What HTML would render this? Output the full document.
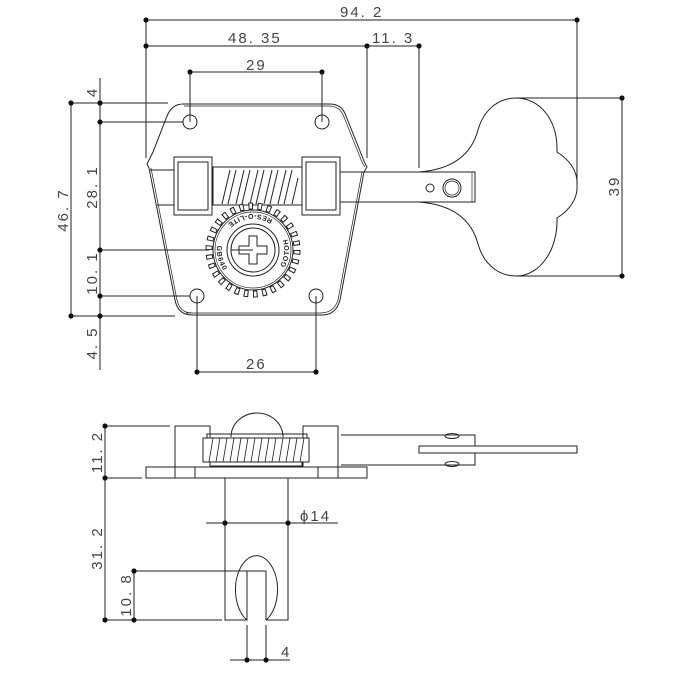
<!DOCTYPE html>
<html><head><meta charset="utf-8">
<style>
html,body{margin:0;padding:0;background:#fff;}
svg{display:block;}
text{font-family:"Liberation Sans",sans-serif;fill:#444;font-size:15px;letter-spacing:2px;}
.r{font-size:7px;font-weight:bold;letter-spacing:1px;fill:#222;}
</style></head><body>
<svg width="681" height="681" viewBox="0 0 681 681" xmlns="http://www.w3.org/2000/svg">
<g stroke="#222" stroke-width="1" fill="none">
<line x1="146" y1="20" x2="577" y2="20"/>
<line x1="146" y1="46" x2="419" y2="46"/>
<line x1="146" y1="20" x2="146" y2="158"/>
<line x1="577" y1="20" x2="577" y2="184"/>
<line x1="367" y1="46" x2="367" y2="158"/>
<line x1="419" y1="46" x2="419" y2="168"/>
<line x1="190" y1="72" x2="322" y2="72"/>
<line x1="190" y1="72" x2="190" y2="122"/>
<line x1="322" y1="72" x2="322" y2="122"/>
<line x1="71" y1="103" x2="71" y2="316"/>
<line x1="100" y1="78" x2="100" y2="370"/>
<line x1="71" y1="103" x2="168" y2="103"/>
<line x1="100" y1="122" x2="183" y2="122"/>
<line x1="100" y1="250" x2="253" y2="250"/>
<line x1="100" y1="296" x2="190" y2="296"/>
<line x1="71" y1="316" x2="175" y2="316"/>
<line x1="197" y1="296" x2="197" y2="372"/>
<line x1="316" y1="296" x2="316" y2="372"/>
<line x1="197" y1="372" x2="316" y2="372"/>
<line x1="516" y1="98" x2="622" y2="98"/>
<line x1="516" y1="276" x2="622" y2="276"/>
<line x1="622" y1="98" x2="622" y2="276"/>

<path d="M183,104 L330,104 Q342,104 346,116 L362,156 Q364,162 367,167 L364,172 L340,300 Q336,315 322,315 L192,315 Q178,315 175,300 L149,168 L147,164 Q150,158 153,152 L167,116 Q172,104 183,104 Z"/>
<path d="M184,106 L329,106 Q340,106 344,117 L360,157 Q362,163 365,167" stroke-width="0.7"/>
<path d="M186,313 L320,313 Q334,313 338,300 L362,172" stroke-width="0.7"/>
<path d="M151,168 L177,300 Q180,313 192,313" stroke-width="0.7"/>
<circle cx="190" cy="122" r="7"/>
<circle cx="322" cy="122" r="7"/>
<circle cx="197" cy="296" r="7"/>
<circle cx="316" cy="296" r="7"/>
<line x1="150" y1="170" x2="174" y2="170"/>
<line x1="157" y1="205" x2="174" y2="205"/>
<rect x="174" y="157" width="38" height="58" fill="#fff"/>
<rect x="178" y="162" width="30" height="48"/>
<rect x="302" y="157" width="38" height="58" fill="#fff"/>
<rect x="306" y="162" width="30" height="48"/>
<rect x="213" y="167" width="89" height="38" fill="#fff"/>
<path d="M222,204 L230,170 M228,204 L236,170 M236,204 L244,170 M242,204 L250,170 M250,204 L258,170 M256,204 L264,170 M264,204 L272,170 M270,204 L278,170 M278,204 L286,170 M284,204 L292,170 M292,204 L298,178"/>
<path d="M340,172 L475,172 L475,202 L340,202"/>
<line x1="472" y1="172" x2="472" y2="202" stroke-width="0.7"/>
<circle cx="430" cy="188" r="4"/>
<circle cx="452" cy="188" r="9"/>
<circle cx="452" cy="188" r="7" stroke-width="0.7"/>
<path d="M419,172 C445,170 470,160 478,130 C485,106 502,98 516,98 C540,98 558,120 557,152 C570,160 578,172 577,185 C578,198 570,210 557,218 C558,250 540,276 516,276 C502,276 485,268 478,244 C470,214 445,204 419,202"/>
</g>
<g>
<circle cx="253" cy="250" r="44" fill="#fff" stroke="#222" stroke-width="7" stroke-dasharray="4.6 4.6"/>
<circle cx="253" cy="250" r="44" fill="none" stroke="#fff" stroke-width="5" stroke-dasharray="2.6 6.6" stroke-dashoffset="-1"/>
<circle cx="253" cy="250" r="40" fill="#fff" stroke="#222" stroke-width="1"/>
<circle cx="253" cy="250" r="38" fill="none" stroke="#222" stroke-width="0.7"/>
<path id="ring" d="M253,286 A36,36 0 0,0 253,214 A36,36 0 0,0 253,286" fill="none"/>
<text class="r"><textPath href="#ring" startOffset="38">GOTOH</textPath></text>
<text class="r"><textPath href="#ring" startOffset="92">RES-O-LITE</textPath></text>
<text class="r"><textPath href="#ring" startOffset="165">GB640</textPath></text>
<circle cx="253" cy="250" r="26" fill="#fff" stroke="#222" stroke-width="1"/>
<circle cx="253" cy="250" r="22" fill="none" stroke="#222" stroke-width="1"/>
<path d="M249,236 L257,236 L257,246 L267,246 L267,254 L257,254 L257,264 L249,264 L249,254 L239,254 L239,246 L249,246 Z" fill="#fff" stroke="#222"/>
<line x1="231" y1="250" x2="253" y2="250" stroke="#222"/>
</g>

<g stroke="#222" stroke-width="1" fill="none">
<line x1="105" y1="426" x2="105" y2="620"/>
<line x1="105" y1="426" x2="170" y2="426"/>
<line x1="105" y1="478" x2="142" y2="478"/>
<line x1="134" y1="571" x2="134" y2="620"/>
<line x1="134" y1="571" x2="247" y2="571"/>
<line x1="105" y1="620" x2="222" y2="620"/>
<rect x="146" y="467" width="221" height="11" fill="#fff"/>
<line x1="175" y1="467" x2="175" y2="478"/>
<line x1="195" y1="467" x2="195" y2="478"/>
<line x1="318" y1="467" x2="318" y2="478"/>
<line x1="338" y1="467" x2="338" y2="478"/>
<rect x="175" y="426" width="35" height="41"/>
<rect x="303" y="426" width="35" height="41"/>
<path d="M231,437 A26,24 0 0,1 283,437"/>
<rect x="207" y="434" width="100" height="5"/>
<rect x="203" y="438" width="106" height="24" fill="#fff"/>
<path d="M209,462 L213,438 M216,462 L220,438 M223,462 L227,438 M230,462 L234,438 M237,462 L241,438 M244,462 L248,438 M251,462 L255,438 M258,462 L262,438 M265,462 L269,438 M272,462 L276,438 M279,462 L283,438 M286,462 L290,438 M293,462 L297,438 M300,462 L304,438" stroke-width="0.8"/>
<rect x="210" y="462" width="92" height="4"/>
<path d="M341,435 L475,435 L475,465 L341,465"/>
<ellipse cx="452" cy="436" rx="7" ry="2.5"/>
<ellipse cx="452" cy="464" rx="7" ry="2.5"/>
<rect x="419" y="446" width="158" height="7" fill="#fff"/>
<path d="M225,478 L225,620 L247,620 L247,571 L266,571 L266,620 L288,620 L288,478"/>
<path d="M247,620 A21,34 0 1,1 266,620"/>
<line x1="206" y1="523" x2="338" y2="523"/>
<line x1="247" y1="625" x2="247" y2="660"/>
<line x1="266" y1="625" x2="266" y2="660"/>
<line x1="230" y1="660" x2="290" y2="660"/>
</g>

<g fill="#111">
<circle cx="146" cy="20" r="2.6"/><circle cx="577" cy="20" r="2.6"/>
<circle cx="146" cy="46" r="2.6"/><circle cx="367" cy="46" r="2.6"/><circle cx="419" cy="46" r="2.6"/>
<circle cx="190" cy="72" r="2.6"/><circle cx="322" cy="72" r="2.6"/>
<circle cx="71" cy="103" r="2.6"/><circle cx="71" cy="316" r="2.6"/>
<circle cx="100" cy="103" r="2.6"/><circle cx="100" cy="122" r="2.6"/><circle cx="100" cy="250" r="2.6"/><circle cx="100" cy="296" r="2.6"/><circle cx="100" cy="316" r="2.6"/>
<circle cx="197" cy="372" r="2.6"/><circle cx="316" cy="372" r="2.6"/>
<circle cx="622" cy="98" r="2.6"/><circle cx="622" cy="276" r="2.6"/>
<circle cx="105" cy="426" r="2.6"/><circle cx="105" cy="478" r="2.6"/><circle cx="105" cy="620" r="2.6"/>
<circle cx="134" cy="571" r="2.6"/><circle cx="134" cy="620" r="2.6"/>
<circle cx="225" cy="523" r="2.6"/><circle cx="288" cy="523" r="2.6"/>
<circle cx="247" cy="660" r="2.6"/><circle cx="266" cy="660" r="2.6"/>
</g>

<text x="340" y="17">94. 2</text>
<text x="228" y="43">48. 35</text>
<text x="372" y="43">11. 3</text>
<text x="246" y="70">29</text>
<text x="246" y="369">26</text>
<text x="300" y="521">ϕ14</text>
<text x="281" y="657">4</text>
<text transform="translate(97,92) rotate(-90)" text-anchor="middle">4</text>
<text transform="translate(68,210) rotate(-90)" text-anchor="middle">46. 7</text>
<text transform="translate(97,187) rotate(-90)" text-anchor="middle">28. 1</text>
<text transform="translate(97,273) rotate(-90)" text-anchor="middle">10. 1</text>
<text transform="translate(97,343) rotate(-90)" text-anchor="middle">4. 5</text>
<text transform="translate(619,186) rotate(-90)" text-anchor="middle">39</text>
<text transform="translate(102,452) rotate(-90)" text-anchor="middle">11. 2</text>
<text transform="translate(102,548) rotate(-90)" text-anchor="middle">31. 2</text>
<text transform="translate(131,595) rotate(-90)" text-anchor="middle">10. 8</text>
</svg>
</body></html>
